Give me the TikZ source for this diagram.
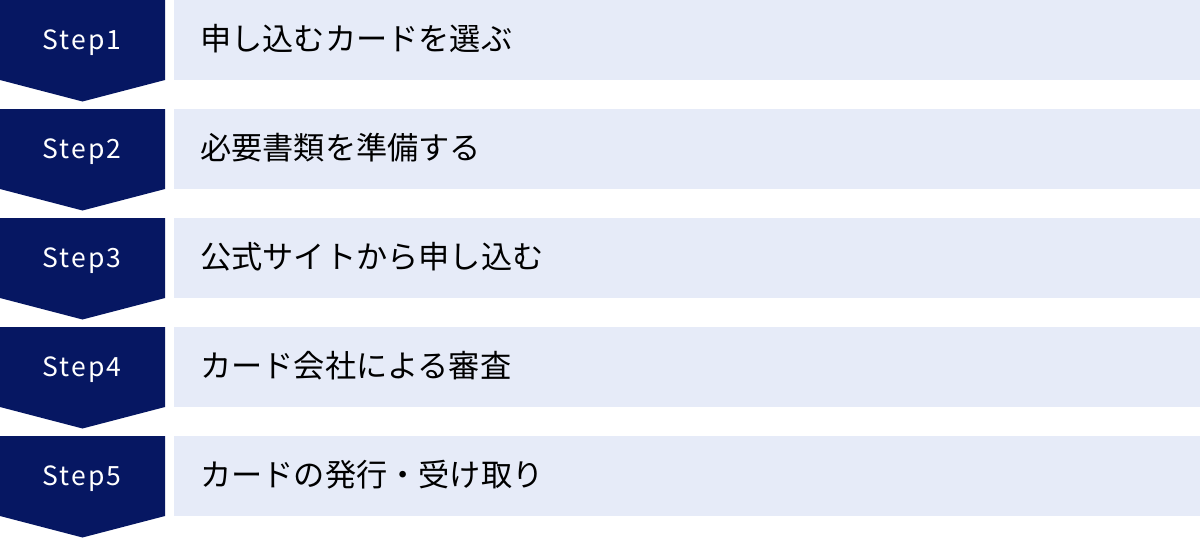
\documentclass[tikz,border=0pt]{standalone}
\usepackage{fontspec}
\newfontfamily\jp{Noto Sans CJK JP}
\definecolor{navy}{HTML}{061762}
\definecolor{pale}{HTML}{E6EBF8}
\tikzset{
  stepshape/.style={fill=navy, draw=none},
  barshape/.style={fill=pale, draw=none},
  steplabel/.style={text=white, font=\jp\fontsize{26.5}{30}\selectfont\addfontfeature{LetterSpace=8}, inner sep=0pt, anchor=base},
  barlabel/.style={text=black, font=\jp\fontsize{31.2}{35}\selectfont, inner sep=0pt, anchor=west}
}
\begin{document}
\begin{tikzpicture}[x=1pt,y=1pt]
\useasboundingbox (0,0) rectangle (1200,-538);
\foreach \i/\t in {1/申し込むカードを選ぶ,2/必要書類を準備する,3/公式サイトから申し込む,4/カード会社による審査,5/カードの発行・受け取り}{
  \pgfmathsetmacro{\top}{-(\i-1)*109}
  \fill[stepshape] (0,\top) -- (165,\top) -- (165,\top-80) -- (82.5,\top-101.5) -- (0,\top-80) -- cycle;
  \fill[barshape] (174,\top) rectangle (1200,\top-80);
  \node[steplabel] (s\i) at (82,\top-49.5) {Step\i};
  \node[barlabel] (b\i) at (200,\top-38.5) {\t};
}
\end{tikzpicture}
\end{document}
